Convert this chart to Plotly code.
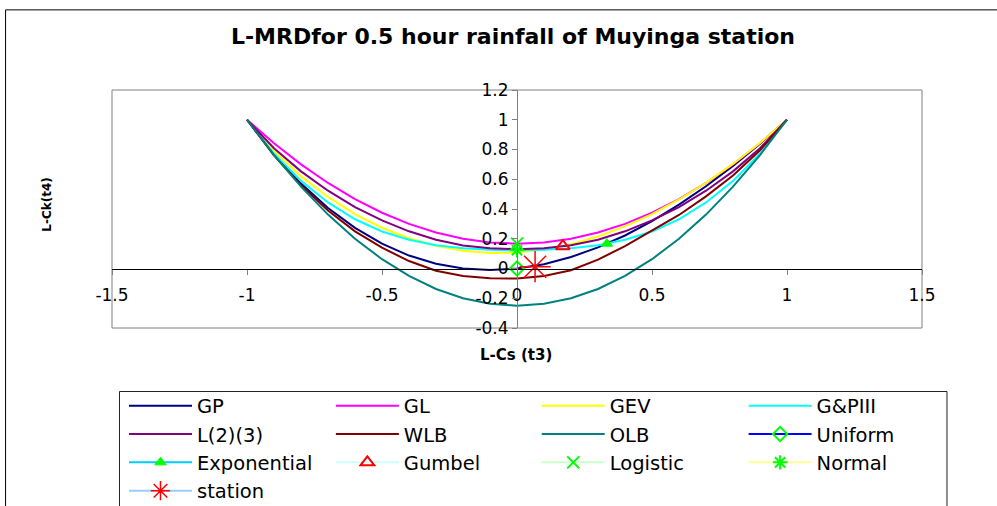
import plotly.graph_objects as go

# L-moment ratio diagram: tau4 (L-kurtosis) against tau3 (L-skewness)
T3 = [-1.0, -0.9, -0.8, -0.7, -0.6, -0.5, -0.4, -0.3, -0.2, -0.1, 0.0,
      0.1, 0.2, 0.3, 0.4, 0.5, 0.6, 0.7, 0.8, 0.9, 1.0]

GP = [1.0, 0.768, 0.571, 0.407, 0.273, 0.167, 0.087, 0.032, 0.0, -0.010, 0.0,
      0.029, 0.077, 0.142, 0.222, 0.318, 0.429, 0.553, 0.690, 0.839, 1.0]
GL = [1.0, 0.842, 0.700, 0.575, 0.467, 0.375, 0.300, 0.242, 0.200, 0.175, 0.167,
      0.175, 0.200, 0.242, 0.300, 0.375, 0.467, 0.575, 0.700, 0.842, 1.0]
GEV = [1.0, 0.792, 0.621, 0.481, 0.366, 0.274, 0.203, 0.152, 0.119, 0.104, 0.107,
       0.127, 0.163, 0.215, 0.283, 0.366, 0.464, 0.576, 0.703, 0.844, 1.0]
PIII = [1.0, 0.773, 0.589, 0.444, 0.331, 0.249, 0.193, 0.157, 0.136, 0.126, 0.122,
        0.126, 0.136, 0.157, 0.193, 0.249, 0.331, 0.444, 0.589, 0.773, 1.0]
LN3 = [1.0, 0.808, 0.653, 0.523, 0.413, 0.323, 0.250, 0.193, 0.154, 0.136, 0.130,
       0.136, 0.156, 0.193, 0.250, 0.323, 0.413, 0.523, 0.653, 0.808, 1.0]
WLB = [1.0, 0.760, 0.560, 0.390, 0.250, 0.140, 0.050, -0.015, -0.050, -0.065, -0.068,
       -0.050, -0.012, 0.060, 0.150, 0.255, 0.360, 0.485, 0.625, 0.795, 1.0]
OLB = [1.0, 0.7625, 0.55, 0.3625, 0.2, 0.0625, -0.05, -0.1375, -0.2, -0.2375, -0.25,
       -0.2375, -0.2, -0.1375, -0.05, 0.0625, 0.2, 0.3625, 0.55, 0.7625, 1.0]

# single-point distributions and the station sample (tau3, tau4)
UNIFORM = (0.0, 0.0)
EXPONENTIAL = (0.333, 0.167)
GUMBEL = (0.170, 0.150)
LOGISTIC = (0.0, 0.167)
NORMAL = (0.0, 0.123)
STATION = (0.067, 0.012)

X_TICKS = [-1.5, -1.0, -0.5, 0.0, 0.5, 1.0, 1.5]
X_TICK_TEXT = ["-1.5", "-1", "-0.5", "0", "0.5", "1", "1.5"]
Y_TICKS = [-0.4, -0.2, 0.0, 0.2, 0.4, 0.6, 0.8, 1.0, 1.2]
Y_TICK_TEXT = ["-0.4", "-0.2", "0", "0.2", "0.4", "0.6", "0.8", "1", "1.2"]

W, H = 997, 506
PL, PR, PT, PB = 111.5, 922.0, 90.0, 327.6  # plot-area edges in pixels


def fx(px):
    return (px - PL) / (PR - PL)


def fy(py):
    return (PB - py) / (PB - PT)


FONT = "DejaVu Sans"

fig = go.Figure()

curves = [
    ("GP", GP, "#000080", "legend"),
    ("GL", GL, "#FF00FF", "legend2"),
    ("GEV", GEV, "#FFFF00", "legend3"),
    ("G&PIII", PIII, "#00FFFF", "legend4"),
    ("L(2)(3)", LN3, "#800080", "legend"),
    ("WLB", WLB, "#800000", "legend2"),
    ("OLB", OLB, "#008080", "legend3"),
]
for name, vals, color, leg in curves:
    fig.add_trace(go.Scatter(x=T3, y=vals, name=name, mode="lines",
                             line=dict(color=color, width=2), legend=leg))

points = [
    ("Uniform", UNIFORM, "#0000FF", "diamond-open", "#00FF00", 11, 2, "legend4"),
    ("Exponential", EXPONENTIAL, "#00CCFF", "triangle-up", "#00FF00", 10, 1, "legend"),
    ("Gumbel", GUMBEL, "#CCFFFF", "triangle-up-open", "#FF0000", 12, 2, "legend2"),
    ("Logistic", LOGISTIC, "#CCFFCC", "x-thin-open", "#00FF00", 12, 2, "legend3"),
    ("Normal", NORMAL, "#FFFF99", "asterisk-open", "#00FF00", 12, 2, "legend4"),
    ("station", STATION, "#99CCFF", "asterisk-open", "#FF0000", 26, 1.5, "legend"),
]
for name, (px_, py_), lcolor, sym, mcolor, size, mw, leg in points:
    fig.add_trace(go.Scatter(
        x=[px_], y=[py_], name=name, mode="lines+markers",
        line=dict(color=lcolor, width=2),
        marker=dict(symbol=sym, size=size, color=mcolor,
                    line=dict(color=mcolor, width=mw)),
        legend=leg))

legend_style = dict(orientation="v", yanchor="top", xanchor="left",
                    y=fy(386), itemwidth=63, bgcolor="rgba(0,0,0,0)",
                    borderwidth=0, tracegroupgap=0,
                    font=dict(family=FONT, size=19.5, color="black"))

fig.update_layout(
    width=W, height=H,
    margin=dict(l=PL, r=W - PR, t=PT, b=H - PB, autoexpand=False),
    paper_bgcolor="white", plot_bgcolor="white",
    title=dict(text="L-MRDfor 0.5 hour rainfall of Muyinga station",
               x=513 / W, xanchor="center", xref="container",
               y=1 - 36 / H, yanchor="middle", yref="container",
               font=dict(family=FONT, size=22, color="black", weight="bold")),
    xaxis=dict(range=[-1.5, 1.5], anchor="free", position=0.25,
               showline=True, linecolor="black", linewidth=1,
               ticks="outside", ticklen=5, tickcolor="#808080",
               ticklabelstandoff=6,
               tickvals=X_TICKS, ticktext=X_TICK_TEXT,
               showgrid=False, zeroline=False,
               tickfont=dict(family=FONT, size=17, color="black")),
    yaxis=dict(range=[-0.4, 1.2], anchor="free", position=0.5,
               showline=True, linecolor="#808080", linewidth=1,
               ticks="outside", ticklen=5, tickcolor="#808080",
               tickvals=Y_TICKS, ticktext=Y_TICK_TEXT,
               showgrid=False, zeroline=False,
               tickfont=dict(family=FONT, size=17, color="black")),
    legend=dict(legend_style, x=fx(123.5)),
    legend2=dict(legend_style, x=fx(330.5)),
    legend3=dict(legend_style, x=fx(536.5)),
    legend4=dict(legend_style, x=fx(743.5)),
    showlegend=True,
)

# plot-area frame, legend box and outer chart frame
fig.add_shape(type="rect", xref="paper", yref="paper", x0=0, x1=1, y0=0, y1=1,
              line=dict(color="#808080", width=1), layer="below")
fig.add_shape(type="rect", xref="paper", yref="paper",
              x0=fx(119), x1=fx(947), y0=fy(391), y1=fy(530),
              line=dict(color="#222222", width=1), layer="below")
fig.add_shape(type="rect", xref="paper", yref="paper",
              x0=fx(5), x1=fx(1010), y0=fy(10), y1=fy(530),
              line=dict(color="black", width=1), layer="below")

# axis titles
fig.add_annotation(text="L-Cs (t3)", xref="paper", yref="paper",
                   x=fx(516), y=fy(355), xanchor="center", yanchor="middle",
                   showarrow=False,
                   font=dict(family=FONT, size=15, color="black", weight="bold"))
fig.add_annotation(text="L-Ck(t4)", xref="paper", yref="paper",
                   x=fx(47), y=fy(205), xanchor="center", yanchor="middle",
                   showarrow=False, textangle=-90,
                   font=dict(family=FONT, size=12, color="black", weight="bold"))

fig.write_html("out.html")
